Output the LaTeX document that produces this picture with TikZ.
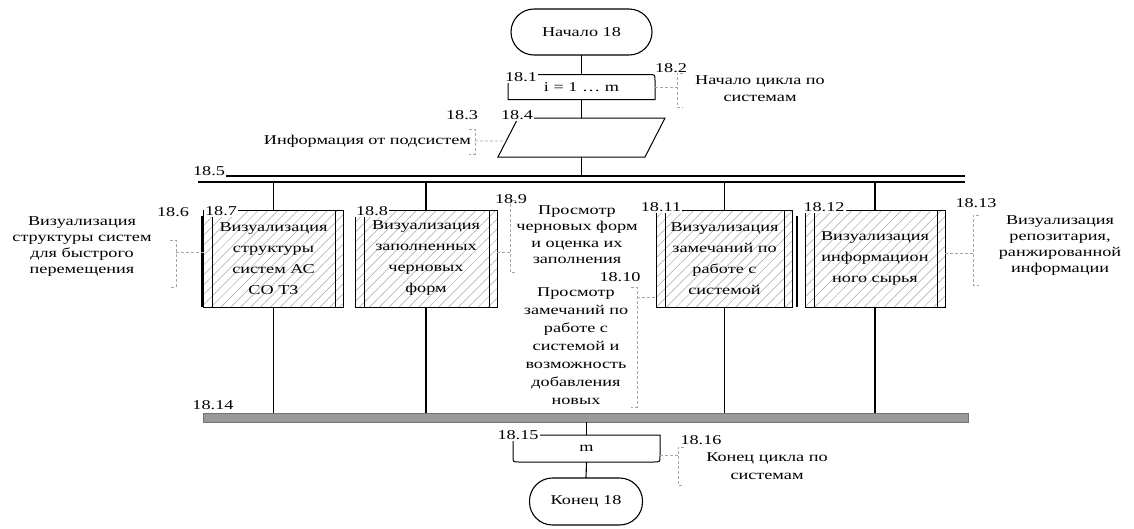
\documentclass[tikz,border=0pt]{standalone}
\usepackage{fontspec}
\setmainfont[FakeStretch=1.35]{Liberation Serif}
\usetikzlibrary{patterns.meta,calc}

\tikzset{
  base/.style={font=\fontsize{13.5}{16}\selectfont, inner sep=0pt, outer sep=0pt},
  flowline/.style={line width=1.1pt, black},
  boxline/.style={line width=1pt, black},
  terminal/.style={base, draw, line width=1.1pt, rounded corners=23pt, minimum height=46pt},
  loopbox/.style={base, minimum width=147pt, minimum height=25pt},
  procbox/.style={base, draw, line width=1pt, minimum width=140pt, minimum height=97pt, align=center,
    pattern={Lines[angle=45,distance=7pt,line width=0.5pt]}, pattern color=gray!70,
    font=\fontsize{13.5}{21}\selectfont},
  num/.style={base},
  numw/.style={base, fill=white, inner sep=1pt},
  note/.style={base, align=center},
  cmt/.style={draw=gray!70, line width=0.7pt, dash pattern=on 3pt off 2pt},
}

\begin{document}
\begin{tikzpicture}[x=1pt,y=-1pt]
\useasboundingbox (0,0) rectangle (1134,528);

% ---- main column: start, loop head, input ----
\node[terminal, minimum width=141pt] (start) at (581.5,32) {Начало 18};

\node[loopbox] (loopA) at (581.5,87) {i = 1 \ldots\ m};
\draw[boxline] (loopA.south west) -- ([yshift=-6pt]loopA.north west)
  .. controls (loopA.north west) .. ([xshift=6pt]loopA.north west)
  -- ([xshift=-6pt]loopA.north east)
  .. controls (loopA.north east) .. ([yshift=-6pt]loopA.north east)
  -- (loopA.south east) -- cycle;

\node[base, minimum width=167pt, minimum height=39pt] (io) at (581.5,137.5) {};
\draw[boxline] (io.south west) -- ([xshift=20pt]io.north west) -- (io.north east)
  -- ([xshift=-20pt]io.south east) -- cycle;

% ---- buses ----
\node[base, minimum width=767pt, minimum height=6pt] (bus1) at (581.5,179) {};
\draw[line width=1.6pt] (bus1.north west) -- (bus1.north east);
\draw[line width=1.6pt] (bus1.south west) -- (bus1.south east);

\node[base, minimum width=765pt, minimum height=9pt, fill=gray!80, draw=black!55, line width=0.6pt] (bus2) at (585.5,417.5) {};

% ---- processes ----
\node[procbox] (b7) at (273.5,258.5) {Визуализация\\структуры\\систем АС\\СО ТЗ};
\node[procbox, minimum width=142pt] (b8) at (426,258.5) {Визуализация\\заполненных\\черновых\\форм};
\node[procbox, minimum width=136pt] (b11) at (724.5,258.5) {Визуализация\\замечаний по\\работе с\\системой};
\node[procbox] (b12) at (875,258.5) {Визуализация\\информацион\\ного сырья};

\foreach \b in {b7,b8,b11,b12}{
  \draw[line width=0.8pt] ([xshift=9pt]\b.north west) -- ([xshift=9pt]\b.south west);
  \draw[line width=0.8pt] ([xshift=-8pt]\b.north east) -- ([xshift=-8pt]\b.south east);
  \draw[flowline] (\b.north |- bus1.south) -- (\b.north);
  \draw[flowline] (\b.south) -- (\b.south |- bus2.north);
}
\draw[line width=2.4pt] ([xshift=-1.5pt,yshift=-6pt]b7.north west) -- ([xshift=-1.5pt]b7.south west);
\draw[line width=2.4pt] ([xshift=4.5pt,yshift=-6pt]b11.north east) -- ([xshift=4.5pt]b11.south east);

% ---- loop tail and end ----
\node[loopbox, minimum height=27pt] (loopB) at (586.5,448.5) {m};
\draw[boxline] (loopB.north west) -- (loopB.north east)
  -- ([yshift=6pt]loopB.south east)
  .. controls (loopB.south east) .. ([xshift=-6pt]loopB.south east)
  -- ([xshift=6pt]loopB.south west)
  .. controls (loopB.south west) .. ([yshift=6pt]loopB.south west) -- cycle;

\node[terminal, minimum width=113pt, minimum height=47pt] (stop) at (586,501.5) {Конец 18};

% ---- flow lines of the main column ----
\draw[flowline] (start.south) -- (loopA.north);
\draw[flowline] (loopA.south) -- (io.north);
\draw[flowline] (io.south) -- (io.south |- bus1.north);
\draw[flowline] (bus2.south -| loopB.north) -- (loopB.north);
\draw[flowline] (loopB.south) -- (stop.north);

% ---- comments ----
\coordinate (k2) at (677,87);
\draw[cmt] (loopA.east) -- (k2);
\draw[cmt] (683,73) -- (677,73) -- (677,107) -- (683,107);
\node[note, font=\fontsize{13.5}{17}\selectfont] (t2) at (760,88.5) {Начало цикла по\\системам};

\coordinate (k3) at (475,141);
\draw[cmt] (k3) -- ($(io.south west)!0.41!([xshift=20pt]io.north west)$);
\draw[cmt] (469,129) -- (475,129) -- (475,154) -- (469,154);
\node[note, anchor=east] (t3) at (471,141) {Информация от подсистем};

\coordinate (k6) at (176,252);
\draw[cmt] (k6) -- (k6 -| b7.west);
\draw[cmt] (170,240) -- (176,240) -- (176,287) -- (170,287);
\node[note] (t6) at (82,246.5) {Визуализация\\структуры систем\\для быстрого\\перемещения};

\coordinate (k9) at (510,252);
\draw[cmt] (b8.east |- k9) -- (k9);
\draw[cmt] (516,200) -- (510,200) -- (510,272) -- (516,272);
\node[note, font=\fontsize{13.5}{16.5}\selectfont] (t9) at (577,234.5) {Просмотр\\черновых форм\\и оценка их\\заполнения};

\coordinate (k10) at (637,297);
\draw[cmt] (k10) -- (k10 -| b11.west);
\draw[cmt] (631,287) -- (637,287) -- (637,407) -- (631,407);
\node[note, font=\fontsize{13.5}{18}\selectfont] (t10) at (576,346) {Просмотр\\замечаний по\\работе с\\системой и\\возможность\\добавления\\новых};

\coordinate (k13) at (973,253);
\draw[cmt] (b12.east |- k13) -- (k13);
\draw[cmt] (979,215) -- (973,215) -- (973,285) -- (979,285);
\node[note] (t13) at (1060,245.5) {Визуализация\\репозитария,\\ранжированной\\информации};

\coordinate (k16) at (678,455);
\draw[cmt] (loopB.east |- k16) -- (k16);
\draw[cmt] (684,447) -- (678,447) -- (678,485) -- (684,485);
\node[note, font=\fontsize{13.5}{18}\selectfont] (t16) at (767,466) {Конец цикла по\\системам};

% ---- numbers ----
\node[numw] (n1) at (521,77) {18.1};
\node[num] (n2) at (671,68) {18.2};
\node[num] (n3) at (462,115) {18.3};
\node[numw] (n4) at (517,115) {18.4};
\node[numw] (n5) at (209,171) {18.5};
\node[num] (n6) at (173,212) {18.6};
\node[numw] (n7) at (221,211) {18.7};
\node[numw] (n8) at (372,211) {18.8};
\node[num] (n9) at (511,199) {18.9};
\node[num] (n10) at (620,277) {18.10};
\node[numw] (n11) at (661,207) {18.11};
\node[numw] (n12) at (824,207) {18.12};
\node[num] (n13) at (976,203) {18.13};
\node[num] (n14) at (213,405) {18.14};
\node[numw] (n15) at (518,435) {18.15};
\node[num] (n16) at (701,440) {18.16};
\end{tikzpicture}
\end{document}
